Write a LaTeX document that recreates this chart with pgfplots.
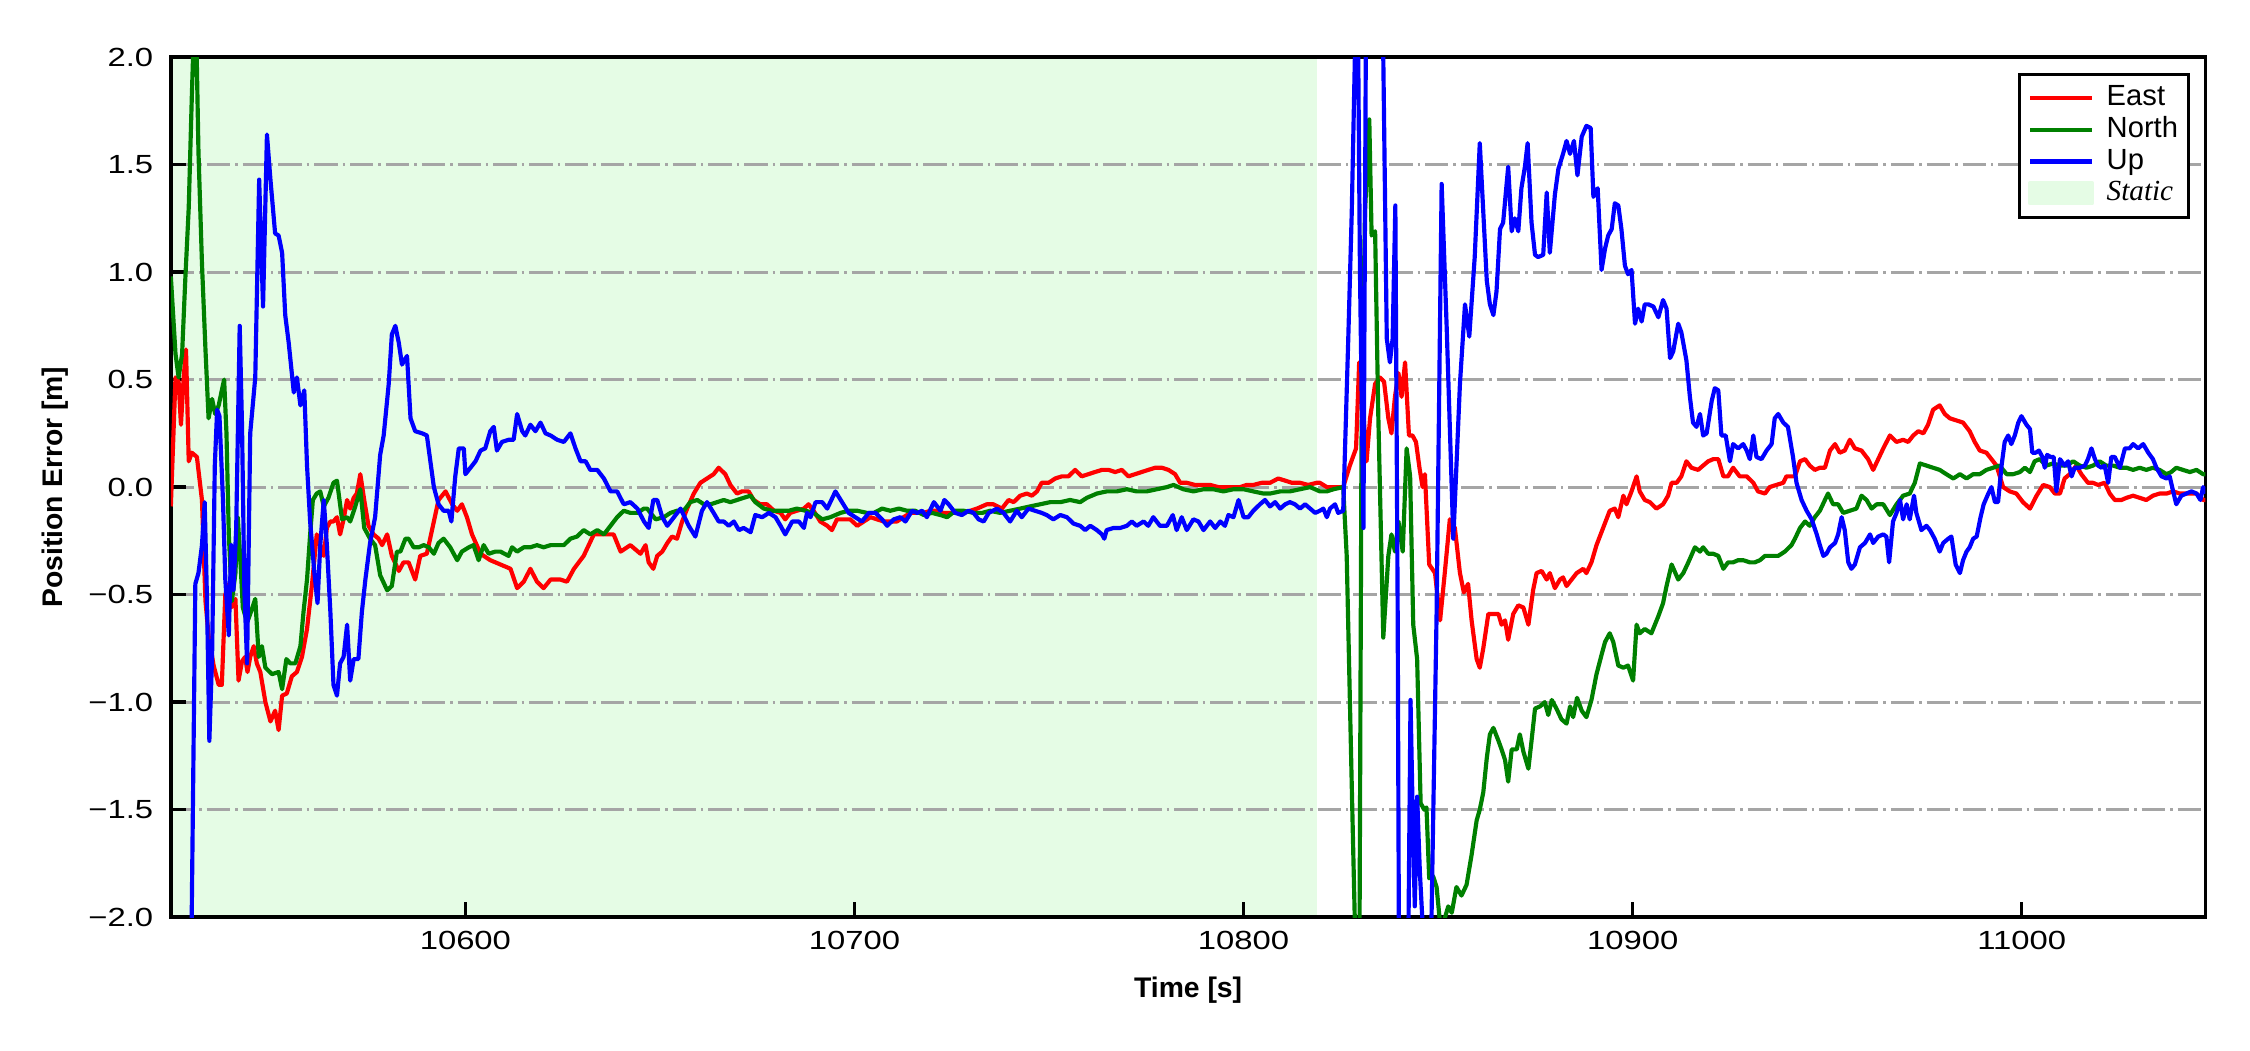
\documentclass[border=0pt]{standalone}
\usepackage{fontspec}
\setmainfont{Liberation Sans}
\newfontfamily\serifit{Liberation Serif}
\usepackage{graphicx}
\usepackage{pgfplots}
\pgfplotsset{compat=1.18}
\definecolor{staticgreen}{RGB}{229,252,229}
\definecolor{gridgray}{RGB}{165,165,165}
\definecolor{cE}{RGB}{255,0,0}
\definecolor{cN}{RGB}{0,128,0}
\definecolor{cU}{RGB}{0,0,255}
\newcommand{\hs}[1]{\scalebox{1.25}[1]{#1}}
\begin{document}
\begin{tikzpicture}
\begin{axis}[
  at={(0,0)}, anchor=south west,
  scale only axis, width=488.3pt, height=206.4pt,
  set layers,
  xmin=10524.3, xmax=11047.2, ymin=-2, ymax=2,
  scaled x ticks=false, scaled y ticks=false,
  axis line style={line width=0.8pt},
  xtick={10600,10700,10800,10900,11000},
  xticklabels={\hs{10600},\hs{10700},\hs{10800},\hs{10900},\hs{11000}},
  ytick={-2,-1.5,-1,-0.5,0,0.5,1,1.5,2},
  yticklabels={\hs{−2.0},\hs{−1.5},\hs{−1.0},\hs{−0.5},\hs{0.0},\hs{0.5},\hs{1.0},\hs{1.5},\hs{2.0}},
  xtick pos=bottom, ytick pos=left,
  tick align=inside,
  major tick length=3.6pt,
  tick style={black, line width=0.8pt},
  tick label style={font=\fontsize{6.3}{7}\selectfont},
  yticklabel style={xshift=-0.7pt},
  xticklabel style={yshift=0.2pt},
  ymajorgrids,
  major grid style={gridgray, line width=0.7pt, dash pattern=on 5.6pt off 1.2pt on 0.6pt off 1.2pt},
  xlabel={\bfseries Time [s]},
  ylabel={\bfseries Position Error [m]},
  label style={font=\fontsize{6.8}{8}\selectfont},
  xlabel style={at={(axis description cs:0.5,-0.0848)}, anchor=center},
  ylabel style={at={(axis description cs:-0.0569,0.5)}, anchor=center},
  legend image code/.code={\draw[#1] (0pt,0pt) -- (14.9pt,0pt);},
  legend cell align=left,
  legend style={at={(axis description cs:1,1)}, anchor=north east, xshift=-3.6pt, yshift=-3.7pt,
    draw=black, line width=0.75pt, fill=white, inner xsep=2pt, inner ysep=2pt,
    font=\fontsize{7}{8}\selectfont, row sep=0pt,
    nodes={text height=5pt, text depth=1.4pt, inner sep=0.6pt},
    /tikz/every odd column/.append style={column sep=2.4pt}},
  every axis plot/.append style={line width=1pt, line join=round},
]
\addplot[fill=staticgreen, draw=none, forget plot, on layer=axis background] coordinates {(10524.3,-2) (10818.8,-2) (10818.8,2) (10524.3,2)};

% East
\addplot[cE] coordinates {
(10524.3,-0.09) (10525.5,0.51) (10526.3,0.49) (10526.9,0.29) (10527.6,0.51) (10528.2,0.64) (10528.9,0.12) (10529.7,0.16) (10531.0,0.14) (10532.3,-0.06)
(10533.2,-0.53) (10534.0,-0.69) (10535.3,-0.83) (10536.6,-0.92) (10537.4,-0.92) (10538.3,-0.50) (10539.2,-0.45) (10539.8,-0.56) (10540.9,-0.52) (10541.7,-0.90)
(10542.6,-0.81) (10543.4,-0.79) (10544.0,-0.86) (10544.7,-0.79) (10545.6,-0.74) (10546.4,-0.82) (10547.3,-0.86) (10548.6,-1.00) (10549.9,-1.09) (10551.1,-1.04)
(10552.0,-1.13) (10552.9,-0.97) (10554.1,-0.96) (10555.4,-0.88) (10556.7,-0.86) (10558.0,-0.79) (10559.3,-0.66) (10560.6,-0.45) (10561.8,-0.22) (10562.7,-0.27)
(10563.6,-0.32) (10564.4,-0.19) (10565.3,-0.16) (10566.1,-0.16) (10567.0,-0.14) (10567.8,-0.22) (10568.7,-0.15) (10569.6,-0.06) (10570.4,-0.10) (10571.3,-0.05)
(10572.1,-0.03) (10573.0,0.06) (10574.0,-0.06) (10575.1,-0.18) (10576.4,-0.22) (10577.7,-0.24) (10578.6,-0.27) (10579.9,-0.22) (10581.1,-0.32) (10582.9,-0.39)
(10584.1,-0.35) (10585.4,-0.35) (10587.1,-0.43) (10588.4,-0.32) (10590.1,-0.31) (10591.9,-0.16) (10593.1,-0.06) (10594.9,-0.02) (10596.6,-0.08) (10597.9,-0.11)
(10599.1,-0.08) (10600.4,-0.14) (10601.7,-0.22) (10603.9,-0.31) (10606.4,-0.34) (10609.0,-0.36) (10611.6,-0.38) (10613.3,-0.47) (10615.0,-0.44) (10616.7,-0.38)
(10618.4,-0.44) (10620.1,-0.47) (10621.9,-0.43) (10624.4,-0.43) (10626.1,-0.44) (10627.9,-0.38) (10630.4,-0.32) (10633.0,-0.22) (10635.6,-0.22) (10638.1,-0.22)
(10639.9,-0.30) (10642.4,-0.27) (10645.0,-0.31) (10646.3,-0.27) (10647.1,-0.35) (10648.3,-0.38) (10649.3,-0.32) (10650.6,-0.30) (10651.9,-0.26) (10653.1,-0.23)
(10654.4,-0.24) (10655.7,-0.16) (10657.0,-0.10) (10658.7,-0.03) (10660.4,0.02) (10662.1,0.04) (10663.8,0.06) (10665.1,0.09) (10666.8,0.06) (10668.1,0.01)
(10669.8,-0.03) (10671.1,-0.02) (10672.8,-0.02) (10674.1,-0.06) (10675.8,-0.08) (10677.5,-0.08) (10679.3,-0.11) (10681.0,-0.12) (10682.2,-0.15) (10683.5,-0.12)
(10685.2,-0.11) (10687.0,-0.10) (10688.2,-0.08) (10689.5,-0.11) (10691.2,-0.16) (10693.0,-0.18) (10694.2,-0.20) (10695.5,-0.15) (10697.2,-0.15) (10698.9,-0.15)
(10700.7,-0.18) (10702.4,-0.16) (10704.1,-0.14) (10705.8,-0.15) (10707.5,-0.16) (10709.2,-0.16) (10710.9,-0.16) (10712.6,-0.14) (10714.4,-0.12) (10716.1,-0.12)
(10717.8,-0.12) (10719.5,-0.11) (10721.2,-0.11) (10722.9,-0.12) (10724.6,-0.12) (10726.3,-0.12) (10728.1,-0.12) (10729.8,-0.11) (10731.5,-0.10) (10734.0,-0.08)
(10735.7,-0.08) (10737.9,-0.10) (10739.6,-0.06) (10740.9,-0.07) (10742.6,-0.04) (10744.3,-0.03) (10745.6,-0.04) (10746.9,-0.02) (10748.1,0.02) (10749.9,0.02)
(10751.6,0.04) (10753.3,0.05) (10755.0,0.05) (10756.7,0.08) (10758.4,0.05) (10760.1,0.06) (10761.8,0.07) (10763.6,0.08) (10765.3,0.08) (10767.0,0.07)
(10768.7,0.08) (10770.4,0.05) (10772.1,0.06) (10773.8,0.07) (10775.5,0.08) (10777.3,0.09) (10779.0,0.09) (10780.7,0.08) (10782.4,0.06) (10783.7,0.02)
(10785.4,0.02) (10787.5,0.01) (10789.2,0.01) (10791.4,0.01) (10793.5,0.00) (10795.2,0.00) (10797.4,0.00) (10799.1,0.00) (10800.8,0.01) (10802.5,0.01)
(10804.7,0.02) (10806.8,0.02) (10808.9,0.04) (10810.7,0.03) (10812.4,0.02) (10814.5,0.02) (10816.6,0.01) (10818.8,0.02) (10819.6,0.02) (10821.4,0.00)
(10823.1,0.00) (10825.6,0.00) (10827.3,0.10) (10828.9,0.18) (10829.7,0.58) (10830.8,0.34) (10831.6,0.12) (10832.5,0.32) (10833.8,0.48) (10835.0,0.51)
(10836.1,0.49) (10837.2,0.32) (10838.0,0.25) (10838.9,0.42) (10839.8,0.53) (10840.6,0.42) (10841.5,0.58) (10842.5,0.24) (10843.4,0.24) (10844.3,0.21)
(10845.2,0.09) (10846.0,0.00) (10846.6,0.06) (10847.7,-0.36) (10849.2,-0.40) (10850.5,-0.62) (10851.7,-0.40) (10853.0,-0.15) (10854.3,-0.19) (10855.6,-0.40)
(10856.6,-0.49) (10857.7,-0.45) (10858.6,-0.62) (10859.9,-0.80) (10860.7,-0.84) (10861.6,-0.75) (10862.9,-0.59) (10864.2,-0.59) (10865.5,-0.59) (10866.3,-0.64)
(10867.2,-0.62) (10868.0,-0.71) (10869.3,-0.59) (10870.6,-0.55) (10871.9,-0.56) (10873.2,-0.64) (10874.4,-0.48) (10875.3,-0.40) (10876.6,-0.39) (10877.9,-0.43)
(10878.7,-0.40) (10880.0,-0.47) (10881.3,-0.43) (10882.1,-0.42) (10883.0,-0.46) (10884.3,-0.43) (10885.6,-0.40) (10887.3,-0.38) (10888.1,-0.40) (10889.4,-0.35)
(10890.7,-0.27) (10892.4,-0.19) (10894.1,-0.11) (10895.4,-0.10) (10896.3,-0.14) (10897.6,-0.04) (10898.4,-0.08) (10899.7,-0.02) (10901.0,0.05) (10901.8,-0.02)
(10903.1,-0.06) (10904.4,-0.07) (10906.1,-0.10) (10907.8,-0.08) (10909.1,-0.04) (10910.0,0.02) (10911.3,0.02) (10912.5,0.05) (10913.8,0.12) (10915.1,0.09)
(10916.8,0.08) (10918.1,0.10) (10919.4,0.12) (10920.7,0.13) (10922.0,0.13) (10923.3,0.05) (10924.5,0.05) (10925.8,0.09) (10927.5,0.05) (10929.3,0.05)
(10931.0,0.02) (10932.2,-0.02) (10934.0,-0.03) (10935.2,0.00) (10936.9,0.01) (10938.7,0.02) (10939.5,0.05) (10941.7,0.05) (10943.0,0.12) (10944.3,0.13)
(10945.5,0.10) (10946.8,0.08) (10948.1,0.09) (10949.4,0.09) (10950.7,0.17) (10952.0,0.20) (10953.2,0.16) (10954.5,0.17) (10955.8,0.22) (10957.1,0.18)
(10958.8,0.17) (10960.5,0.13) (10961.8,0.08) (10963.1,0.13) (10964.4,0.18) (10966.1,0.24) (10967.8,0.21) (10969.5,0.22) (10970.8,0.21) (10972.1,0.24)
(10973.4,0.26) (10974.7,0.25) (10975.9,0.29) (10977.2,0.36) (10978.9,0.38) (10980.2,0.34) (10981.5,0.32) (10983.2,0.31) (10984.9,0.30) (10986.6,0.26)
(10987.9,0.21) (10989.2,0.17) (10990.9,0.16) (10992.2,0.13) (10993.5,0.10) (10995.2,0.00) (10996.9,-0.02) (10998.6,-0.03) (11000.3,-0.07) (11002.1,-0.10)
(11003.8,-0.04) (11005.5,0.01) (11007.2,0.00) (11008.5,-0.03) (11009.8,-0.03) (11011.0,0.04) (11012.3,0.06) (11014.0,0.10) (11015.3,0.06) (11017.0,0.02)
(11018.3,0.02) (11019.6,0.01) (11021.3,0.02) (11022.6,-0.03) (11023.9,-0.06) (11025.6,-0.06) (11026.9,-0.05) (11028.6,-0.04) (11030.3,-0.05) (11032.0,-0.06)
(11033.7,-0.04) (11035.4,-0.03) (11037.2,-0.03) (11038.9,-0.02) (11040.6,-0.03) (11041.9,-0.03) (11043.2,-0.03) (11044.9,-0.03) (11046.6,-0.06) (11047.2,-0.06)
};
\addlegendentry{East}

% North
\addplot[cN] coordinates {
(10524.3,0.98) (10525.5,0.62) (10526.3,0.51) (10527.2,0.62) (10528.0,0.96) (10528.9,1.30) (10529.7,1.82) (10530.6,2.35) (10531.4,1.56) (10532.3,1.04)
(10533.2,0.64) (10534.0,0.32) (10534.9,0.41) (10535.7,0.34) (10536.6,0.38) (10537.4,0.45) (10538.0,0.50) (10538.6,0.25) (10539.2,-0.22) (10540.0,-0.53)
(10540.9,-0.40) (10541.5,-0.14) (10542.2,-0.35) (10542.8,-0.56) (10543.9,-0.63) (10544.9,-0.58) (10546.0,-0.52) (10546.9,-0.79) (10547.7,-0.74) (10548.6,-0.84)
(10550.3,-0.87) (10552.0,-0.86) (10552.9,-0.94) (10554.0,-0.80) (10555.0,-0.82) (10556.3,-0.82) (10557.6,-0.74) (10558.4,-0.58) (10559.3,-0.43) (10560.1,-0.22)
(10560.8,-0.06) (10561.8,-0.03) (10562.7,-0.02) (10563.6,-0.09) (10564.8,-0.05) (10566.1,0.02) (10567.0,0.03) (10568.3,-0.15) (10569.6,-0.14) (10570.4,-0.16)
(10571.7,-0.09) (10573.0,-0.01) (10574.0,-0.19) (10575.5,-0.24) (10576.8,-0.27) (10578.1,-0.41) (10579.9,-0.48) (10581.1,-0.46) (10582.4,-0.30) (10583.3,-0.30)
(10584.6,-0.24) (10585.4,-0.24) (10586.7,-0.28) (10588.0,-0.28) (10589.3,-0.27) (10590.6,-0.28) (10591.9,-0.31) (10593.1,-0.26) (10594.4,-0.24) (10596.1,-0.28)
(10597.9,-0.34) (10599.1,-0.30) (10600.9,-0.28) (10602.1,-0.27) (10603.4,-0.34) (10604.7,-0.27) (10606.0,-0.31) (10607.7,-0.30) (10609.0,-0.30) (10611.1,-0.32)
(10612.0,-0.28) (10613.3,-0.30) (10615.0,-0.28) (10616.7,-0.28) (10618.4,-0.27) (10620.1,-0.28) (10621.9,-0.27) (10623.6,-0.27) (10625.3,-0.27) (10627.0,-0.24)
(10628.7,-0.23) (10630.4,-0.20) (10632.1,-0.22) (10633.9,-0.20) (10635.6,-0.22) (10637.3,-0.18) (10639.0,-0.14) (10640.7,-0.11) (10642.4,-0.12) (10644.2,-0.12)
(10645.9,-0.10) (10646.7,-0.10) (10648.9,-0.15) (10651.0,-0.14) (10652.7,-0.12) (10654.4,-0.11) (10656.1,-0.11) (10657.8,-0.07) (10659.6,-0.06) (10661.3,-0.08)
(10663.0,-0.08) (10664.7,-0.07) (10666.4,-0.06) (10668.1,-0.07) (10669.8,-0.06) (10671.5,-0.05) (10673.3,-0.04) (10674.5,-0.07) (10676.7,-0.10) (10678.8,-0.11)
(10681.0,-0.11) (10683.1,-0.11) (10685.2,-0.10) (10687.4,-0.11) (10689.5,-0.12) (10691.7,-0.15) (10693.8,-0.14) (10696.4,-0.12) (10698.5,-0.11) (10700.7,-0.11)
(10703.2,-0.12) (10705.0,-0.12) (10707.1,-0.10) (10709.2,-0.11) (10711.4,-0.10) (10713.5,-0.11) (10715.6,-0.11) (10717.8,-0.13) (10719.9,-0.12) (10722.1,-0.13)
(10723.8,-0.14) (10725.9,-0.11) (10728.1,-0.11) (10730.6,-0.12) (10732.8,-0.12) (10734.9,-0.11) (10737.4,-0.12) (10740.0,-0.11) (10742.6,-0.10) (10745.1,-0.09)
(10747.7,-0.08) (10750.3,-0.07) (10752.9,-0.07) (10755.4,-0.06) (10758.0,-0.07) (10759.7,-0.05) (10762.3,-0.03) (10764.8,-0.02) (10767.4,-0.02) (10770.0,-0.01)
(10772.5,-0.02) (10775.1,-0.02) (10777.7,-0.01) (10780.3,0.00) (10782.0,0.01) (10784.5,-0.01) (10787.1,-0.02) (10789.7,-0.01) (10792.2,-0.01) (10794.8,-0.02)
(10797.4,-0.01) (10800.0,-0.01) (10802.5,-0.02) (10805.1,-0.03) (10806.8,-0.03) (10809.4,-0.02) (10811.9,-0.02) (10814.5,-0.01) (10817.1,0.00) (10819.6,-0.02)
(10821.4,-0.02) (10823.1,-0.01) (10825.6,0.00) (10826.5,-0.32) (10827.8,-1.39) (10828.6,-2.03) (10829.0,-2.50) (10829.7,-2.50) (10830.3,0.21) (10831.2,1.28)
(10832.3,1.71) (10832.9,1.17) (10833.8,1.19) (10834.6,0.35) (10835.9,-0.70) (10837.2,-0.32) (10838.0,-0.22) (10838.9,-0.30) (10839.8,-0.16) (10840.9,-0.30)
(10841.9,0.18) (10842.8,0.05) (10843.6,-0.64) (10844.6,-0.80) (10845.5,-1.47) (10846.4,-1.50) (10847.0,-1.49) (10847.7,-1.82) (10848.7,-1.81) (10849.6,-1.86)
(10850.5,-2.03) (10851.3,-2.03) (10852.6,-1.95) (10853.5,-1.98) (10854.7,-1.86) (10856.0,-1.90) (10857.3,-1.85) (10858.6,-1.71) (10859.9,-1.55) (10860.7,-1.50)
(10861.6,-1.42) (10862.5,-1.26) (10863.3,-1.15) (10864.2,-1.12) (10865.5,-1.18) (10866.3,-1.22) (10867.2,-1.27) (10868.0,-1.37) (10868.9,-1.22) (10870.2,-1.22)
(10871.0,-1.15) (10871.9,-1.23) (10873.2,-1.31) (10874.0,-1.18) (10874.9,-1.03) (10876.2,-1.02) (10877.4,-1.00) (10878.3,-1.06) (10879.2,-0.99) (10880.4,-1.03)
(10881.7,-1.08) (10883.0,-1.10) (10883.9,-1.02) (10884.7,-1.07) (10885.7,-0.98) (10886.9,-1.04) (10888.1,-1.07) (10889.4,-0.99) (10890.7,-0.87) (10892.0,-0.78)
(10892.9,-0.72) (10894.1,-0.68) (10895.0,-0.72) (10896.3,-0.83) (10897.6,-0.84) (10898.8,-0.83) (10900.1,-0.90) (10901.0,-0.64) (10901.8,-0.68) (10903.1,-0.66)
(10904.8,-0.68) (10906.6,-0.60) (10907.8,-0.54) (10908.7,-0.46) (10910.0,-0.36) (10911.7,-0.43) (10913.0,-0.40) (10914.3,-0.35) (10916.0,-0.28) (10917.3,-0.30)
(10918.1,-0.28) (10919.4,-0.31) (10920.7,-0.31) (10922.0,-0.32) (10923.3,-0.38) (10924.5,-0.35) (10925.8,-0.35) (10927.1,-0.34) (10928.4,-0.34) (10930.1,-0.35)
(10931.4,-0.35) (10932.7,-0.34) (10934.0,-0.32) (10935.7,-0.32) (10937.4,-0.32) (10939.1,-0.30) (10940.8,-0.27) (10941.7,-0.24) (10943.0,-0.19) (10944.3,-0.16)
(10945.5,-0.18) (10946.8,-0.14) (10948.1,-0.11) (10949.4,-0.06) (10950.2,-0.03) (10951.5,-0.08) (10952.8,-0.08) (10954.1,-0.12) (10955.8,-0.11) (10957.5,-0.10)
(10958.8,-0.04) (10960.1,-0.06) (10961.4,-0.10) (10962.7,-0.08) (10964.4,-0.08) (10966.1,-0.13) (10967.8,-0.08) (10969.5,-0.04) (10971.2,-0.03) (10972.5,0.02)
(10973.8,0.11) (10975.5,0.10) (10977.2,0.09) (10978.9,0.08) (10980.6,0.06) (10982.4,0.04) (10984.1,0.06) (10985.8,0.04) (10987.5,0.06) (10989.2,0.06)
(10990.9,0.08) (10992.6,0.09) (10994.3,0.10) (10996.1,0.06) (10997.8,0.06) (10999.5,0.07) (11000.8,0.09) (11002.1,0.07) (11003.3,0.12) (11004.6,0.13)
(11006.3,0.10) (11008.0,0.11) (11009.8,0.10) (11011.5,0.10) (11013.2,0.12) (11014.9,0.10) (11016.6,0.09) (11018.3,0.10) (11020.0,0.12) (11021.7,0.10)
(11023.5,0.10) (11025.2,0.09) (11026.9,0.09) (11028.6,0.08) (11030.3,0.09) (11032.0,0.08) (11033.7,0.09) (11035.4,0.08) (11037.2,0.06) (11038.4,0.07)
(11039.7,0.09) (11041.4,0.08) (11043.2,0.07) (11044.9,0.08) (11046.6,0.06) (11047.2,0.06)
};
\addlegendentry{North}

% Up
\addplot[cU] coordinates {
(10529.3,-2.60) (10530.6,-0.45) (10531.4,-0.40) (10532.3,-0.27) (10533.0,-0.07) (10533.6,-0.53) (10534.2,-1.18) (10534.9,-0.79) (10535.6,0.10) (10536.2,0.36)
(10536.8,0.33) (10537.7,-0.06) (10538.3,-0.43) (10539.2,-0.69) (10539.8,-0.27) (10540.4,-0.48) (10541.1,-0.19) (10542.0,0.75) (10542.6,0.28) (10543.2,-0.48)
(10543.9,-0.82) (10544.7,0.25) (10546.0,0.51) (10547.0,1.43) (10548.0,0.84) (10549.0,1.64) (10549.9,1.43) (10551.1,1.18) (10552.0,1.17) (10552.9,1.09)
(10553.7,0.80) (10554.6,0.67) (10555.9,0.44) (10556.7,0.51) (10557.6,0.38) (10558.6,0.45) (10559.3,0.10) (10560.1,-0.16) (10561.2,-0.40) (10562.0,-0.54)
(10562.7,-0.27) (10563.6,-0.06) (10564.4,-0.27) (10565.3,-0.58) (10566.1,-0.92) (10567.0,-0.97) (10567.8,-0.82) (10568.7,-0.79) (10569.6,-0.64) (10570.4,-0.90)
(10571.3,-0.80) (10572.5,-0.80) (10573.4,-0.58) (10574.3,-0.43) (10575.5,-0.26) (10576.8,-0.14) (10578.1,0.15) (10579.0,0.24) (10580.3,0.48) (10581.1,0.71)
(10582.0,0.75) (10582.9,0.67) (10583.7,0.57) (10585.0,0.61) (10585.9,0.32) (10587.1,0.26) (10588.9,0.25) (10590.1,0.24) (10591.0,0.12) (10591.9,0.00)
(10593.1,-0.08) (10594.4,-0.11) (10595.7,-0.11) (10596.4,-0.16) (10597.4,0.05) (10598.3,0.18) (10599.6,0.18) (10600.0,0.06) (10601.3,0.09) (10602.6,0.12)
(10603.9,0.17) (10605.1,0.18) (10606.4,0.26) (10607.3,0.28) (10608.1,0.17) (10609.4,0.21) (10611.1,0.22) (10612.4,0.22) (10613.3,0.34) (10614.6,0.26)
(10615.4,0.24) (10616.7,0.29) (10618.0,0.26) (10619.3,0.30) (10620.6,0.25) (10621.9,0.24) (10623.6,0.22) (10625.3,0.21) (10627.0,0.25) (10628.3,0.18)
(10629.6,0.12) (10630.9,0.12) (10632.1,0.08) (10633.9,0.08) (10635.6,0.04) (10637.3,-0.02) (10639.0,-0.02) (10640.7,-0.08) (10642.4,-0.07) (10644.2,-0.10)
(10645.9,-0.16) (10647.1,-0.19) (10648.3,-0.06) (10649.3,-0.06) (10650.6,-0.14) (10651.9,-0.18) (10653.6,-0.14) (10655.3,-0.10) (10657.4,-0.18) (10659.1,-0.23)
(10660.8,-0.11) (10662.1,-0.07) (10663.8,-0.12) (10665.1,-0.16) (10666.4,-0.16) (10667.7,-0.18) (10669.0,-0.16) (10670.3,-0.20) (10671.5,-0.19) (10673.3,-0.21)
(10674.5,-0.13) (10676.3,-0.14) (10678.0,-0.12) (10679.7,-0.14) (10681.0,-0.18) (10682.2,-0.22) (10684.0,-0.16) (10685.7,-0.16) (10687.0,-0.19) (10687.8,-0.12)
(10688.7,-0.14) (10690.0,-0.07) (10691.7,-0.07) (10693.0,-0.10) (10695.1,-0.02) (10696.8,-0.07) (10698.5,-0.12) (10700.2,-0.14) (10701.9,-0.16) (10703.7,-0.12)
(10705.4,-0.12) (10707.1,-0.15) (10708.4,-0.18) (10710.1,-0.15) (10711.8,-0.14) (10713.1,-0.16) (10714.8,-0.11) (10716.1,-0.12) (10717.4,-0.11) (10718.6,-0.14)
(10720.4,-0.07) (10722.1,-0.11) (10723.1,-0.06) (10724.2,-0.08) (10725.9,-0.12) (10727.6,-0.13) (10729.3,-0.11) (10730.6,-0.12) (10731.9,-0.15) (10733.2,-0.16)
(10734.5,-0.12) (10736.6,-0.10) (10738.3,-0.12) (10740.0,-0.16) (10741.7,-0.11) (10743.0,-0.14) (10744.7,-0.10) (10746.4,-0.11) (10748.1,-0.12) (10749.4,-0.13)
(10751.1,-0.15) (10752.9,-0.13) (10754.6,-0.14) (10756.3,-0.17) (10758.0,-0.18) (10759.3,-0.20) (10760.6,-0.18) (10762.3,-0.20) (10763.6,-0.22) (10764.2,-0.24)
(10764.8,-0.20) (10766.6,-0.19) (10768.3,-0.19) (10770.0,-0.18) (10771.3,-0.16) (10772.5,-0.18) (10774.3,-0.16) (10775.5,-0.18) (10776.8,-0.14) (10778.5,-0.18)
(10780.3,-0.18) (10781.8,-0.13) (10782.8,-0.20) (10784.1,-0.14) (10785.4,-0.20) (10787.1,-0.15) (10788.4,-0.16) (10789.7,-0.20) (10791.4,-0.16) (10792.7,-0.19)
(10794.0,-0.16) (10795.2,-0.18) (10796.1,-0.13) (10797.4,-0.14) (10798.7,-0.06) (10800.0,-0.14) (10801.2,-0.14) (10802.5,-0.11) (10804.2,-0.08) (10805.5,-0.06)
(10806.8,-0.09) (10808.1,-0.07) (10809.4,-0.10) (10810.7,-0.08) (10811.9,-0.07) (10813.2,-0.08) (10814.5,-0.10) (10815.8,-0.08) (10817.1,-0.10) (10818.4,-0.12)
(10819.6,-0.11) (10820.5,-0.10) (10821.4,-0.14) (10822.2,-0.10) (10823.5,-0.08) (10824.3,-0.12) (10825.6,-0.11) (10826.9,0.69) (10827.8,1.28) (10828.6,2.00)
(10829.2,2.60) (10829.9,1.01) (10830.8,-0.19) (10831.4,2.00) (10832.0,2.60) (10835.5,2.60) (10835.9,2.00) (10836.8,0.69) (10837.6,0.58) (10838.3,0.69)
(10839.0,1.31) (10839.6,-0.59) (10839.9,-2.03) (10840.4,-2.60) (10841.7,-2.60) (10842.4,-2.00) (10842.9,-0.99) (10843.6,-1.66) (10844.0,-1.95) (10844.6,-1.44)
(10845.3,-1.79) (10846.0,-2.03) (10846.6,-2.60) (10847.7,-2.60) (10848.3,-2.00) (10849.6,-0.59) (10850.9,1.41) (10852.2,0.74) (10853.9,-0.24) (10855.6,0.48)
(10856.9,0.85) (10858.0,0.70) (10859.4,1.07) (10860.7,1.60) (10861.6,1.28) (10862.5,0.96) (10863.3,0.85) (10864.2,0.80) (10865.0,0.91) (10865.9,1.20)
(10866.7,1.23) (10868.0,1.49) (10868.9,1.19) (10869.7,1.25) (10870.6,1.19) (10871.4,1.39) (10872.3,1.49) (10873.0,1.60) (10874.0,1.23) (10874.9,1.08)
(10875.7,1.07) (10877.0,1.08) (10877.9,1.37) (10878.7,1.09) (10880.0,1.36) (10880.9,1.48) (10882.1,1.55) (10883.0,1.61) (10883.9,1.55) (10884.9,1.61)
(10885.8,1.45) (10886.9,1.63) (10888.1,1.68) (10889.2,1.67) (10889.9,1.35) (10891.0,1.39) (10892.0,1.01) (10892.9,1.11) (10893.7,1.17) (10894.6,1.20)
(10895.4,1.32) (10896.3,1.31) (10897.1,1.20) (10898.0,1.03) (10898.8,0.99) (10899.7,1.01) (10900.6,0.76) (10901.4,0.83) (10902.3,0.77) (10903.1,0.85)
(10904.0,0.85) (10905.3,0.84) (10906.6,0.79) (10907.8,0.87) (10908.7,0.83) (10909.6,0.60) (10910.4,0.63) (10911.7,0.76) (10912.5,0.72) (10913.8,0.59)
(10914.7,0.42) (10915.5,0.30) (10916.4,0.28) (10917.3,0.34) (10918.1,0.24) (10919.0,0.25) (10920.3,0.40) (10921.1,0.46) (10922.0,0.45) (10922.8,0.24)
(10923.9,0.24) (10925.0,0.12) (10925.8,0.20) (10927.1,0.18) (10928.4,0.20) (10929.3,0.17) (10930.1,0.13) (10931.0,0.24) (10931.8,0.14) (10933.1,0.13)
(10934.4,0.17) (10935.7,0.20) (10936.5,0.32) (10937.4,0.34) (10938.7,0.30) (10939.9,0.28) (10941.2,0.14) (10942.1,0.02) (10943.4,-0.06) (10944.7,-0.11)
(10946.0,-0.15) (10947.3,-0.22) (10948.1,-0.27) (10949.0,-0.32) (10949.8,-0.31) (10950.7,-0.28) (10952.0,-0.26) (10952.8,-0.22) (10953.7,-0.14) (10954.5,-0.20)
(10955.4,-0.35) (10956.2,-0.38) (10957.1,-0.36) (10958.4,-0.28) (10959.7,-0.26) (10961.0,-0.22) (10961.8,-0.26) (10963.1,-0.23) (10964.4,-0.22) (10965.2,-0.23)
(10965.9,-0.35) (10966.9,-0.16) (10967.8,-0.12) (10968.7,-0.06) (10969.5,-0.15) (10970.4,-0.08) (10971.2,-0.15) (10972.3,-0.04) (10972.9,-0.12) (10974.2,-0.20)
(10975.5,-0.18) (10976.4,-0.20) (10977.6,-0.24) (10978.9,-0.30) (10979.8,-0.26) (10981.1,-0.24) (10981.9,-0.23) (10983.0,-0.36) (10984.1,-0.40) (10984.9,-0.34)
(10985.8,-0.30) (10986.6,-0.28) (10987.5,-0.24) (10988.4,-0.23) (10989.4,-0.14) (10990.2,-0.08) (10991.4,-0.03) (10992.2,0.00) (10993.1,-0.07) (10993.9,-0.07)
(10994.8,0.10) (10995.6,0.21) (10996.5,0.24) (10997.3,0.20) (10998.2,0.24) (10999.1,0.30) (10999.9,0.33) (11001.2,0.29) (11002.1,0.27) (11002.7,0.16)
(11003.6,0.16) (11004.4,0.17) (11005.3,0.14) (11005.9,0.09) (11006.5,0.15) (11007.4,0.14) (11008.2,0.14) (11008.9,-0.02) (11009.8,0.13) (11011.0,0.10)
(11011.9,0.12) (11012.8,0.05) (11013.6,0.09) (11014.9,0.09) (11016.2,0.10) (11017.0,0.13) (11017.9,0.18) (11018.8,0.13) (11019.6,0.10) (11020.5,0.09)
(11021.3,0.10) (11022.2,0.02) (11023.0,0.14) (11023.9,0.14) (11025.2,0.09) (11026.5,0.18) (11027.7,0.18) (11028.6,0.20) (11029.9,0.18) (11031.2,0.20)
(11032.5,0.16) (11033.7,0.13) (11034.6,0.09) (11035.9,0.05) (11037.2,0.04) (11038.0,0.05) (11038.9,-0.02) (11039.7,-0.08) (11041.0,-0.04) (11042.3,-0.03)
(11043.6,-0.02) (11044.9,-0.03) (11045.9,-0.06) (11046.6,0.00) (11047.2,-0.03)
};
\addlegendentry{Up}

\addlegendimage{legend image code/.code={\fill[staticgreen] (0pt,-2.4pt) rectangle (14.9pt,2.4pt);}}
\addlegendentry{\serifit\itshape Static}
\end{axis}
\pgfresetboundingbox
\path[use as bounding box] (-41.0pt,-31.9pt) rectangle (499.0pt,220.1pt);
\end{tikzpicture}
\end{document}
